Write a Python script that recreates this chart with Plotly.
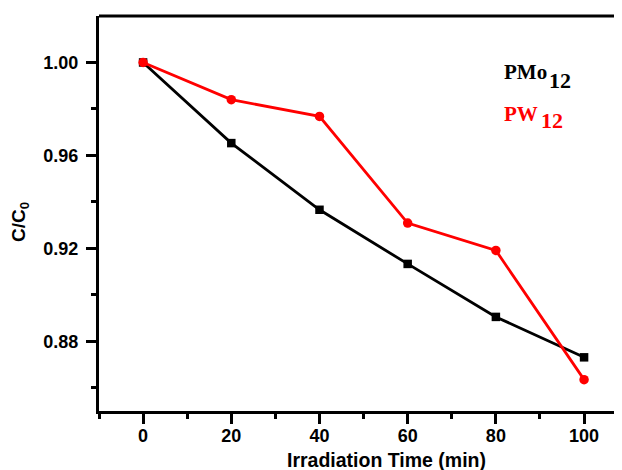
import plotly.graph_objects as go

time_min = [0, 20, 40, 60, 80, 100]
pmo12 = [1.000, 0.9653, 0.9366, 0.9133, 0.8905, 0.8731]
pw12 = [1.000, 0.9840, 0.9768, 0.9309, 0.9191, 0.8635]
y_ticks = [0.88, 0.92, 0.96, 1.00]
y_ticklabels = ["0.88", "0.92", "0.96", "1.00"]
x_ticks = [0, 20, 40, 60, 80, 100]

# the page adds an 8px body margin; size the figure so it fills the window
OFF = 8
W, H = 622 - OFF, 470 - OFF
L, R, T, B = 99 - OFF, 0, 16 - OFF, 59
pw = W - L - R
ph = H - T - B


def px(x):
    return (x - OFF - L) / pw


def py(y):
    return (H - B - (y - OFF)) / ph


fig = go.Figure()
fig.add_trace(go.Scatter(
    x=time_min, y=pmo12, mode="lines+markers", name="PMo12",
    line=dict(color="#000000", width=2.8),
    marker=dict(symbol="square", size=8.5, color="#000000"),
))
fig.add_trace(go.Scatter(
    x=time_min, y=pw12, mode="lines+markers", name="PW12",
    line=dict(color="#FF0000", width=2.8),
    marker=dict(symbol="circle", size=9.5, color="#FF0000"),
))

axis_font = dict(family="Liberation Sans", size=18, color="#000000", weight="bold")

fig.update_xaxes(
    range=[-10, 108.6], tickvals=x_ticks, ticktext=[str(v) for v in x_ticks],
    showgrid=False, zeroline=False, showline=True, linecolor="#000000", linewidth=3,
    ticks="outside", ticklen=10, tickwidth=3, tickcolor="#000000",
    minor=dict(tickvals=[-10, 10, 30, 50, 70, 90], ticks="outside", ticklen=5, tickwidth=3, tickcolor="#000000"),
    tickfont=axis_font, ticklabelstandoff=-4,
)
fig.update_yaxes(
    range=[0.85, 1.02], tickvals=y_ticks, ticktext=y_ticklabels,
    showgrid=False, zeroline=False, showline=True, linecolor="#000000", linewidth=3,
    ticks="outside", ticklen=10, tickwidth=3, tickcolor="#000000",
    minor=dict(tickvals=[0.86, 0.90, 0.94, 0.98], ticks="outside", ticklen=5, tickwidth=3, tickcolor="#000000"),
    tickfont=axis_font, ticklabelstandoff=4,
)

fig.add_shape(type="line", xref="paper", yref="paper", x0=0, x1=1, y0=1, y1=1,
              line=dict(color="#000000", width=3))

annos = [
    dict(text="Irradiation Time (min)", x=px(386), y=py(460), xanchor="center", yanchor="middle",
         font=dict(family="Liberation Sans", size=19.5, color="#000000", weight="bold")),
    dict(text="C/C<sub>0</sub>", x=px(20), y=py(222), xanchor="center", yanchor="middle", textangle=-90,
         font=dict(family="Liberation Sans", size=19, color="#000000", weight="bold")),
    dict(text="PMo", x=px(503), y=py(72), xanchor="left", yanchor="middle",
         font=dict(family="Liberation Serif", size=21, color="#000000", weight="bold")),
    dict(text="12", x=px(548), y=py(80), xanchor="left", yanchor="middle",
         font=dict(family="Liberation Serif", size=22, color="#000000", weight="bold")),
    dict(text="PW", x=px(503), y=py(114), xanchor="left", yanchor="middle",
         font=dict(family="Liberation Serif", size=21, color="#FF0000", weight="bold")),
    dict(text="12", x=px(540), y=py(121), xanchor="left", yanchor="middle",
         font=dict(family="Liberation Serif", size=22, color="#FF0000", weight="bold")),
]
for a in annos:
    fig.add_annotation(xref="paper", yref="paper", showarrow=False, borderpad=0, **a)

fig.update_layout(
    width=W, height=H, autosize=False,
    margin=dict(l=L, r=R, t=T, b=B, pad=0),
    paper_bgcolor="#FFFFFF", plot_bgcolor="#FFFFFF",
    showlegend=False,
)

fig.write_html("out.html")
